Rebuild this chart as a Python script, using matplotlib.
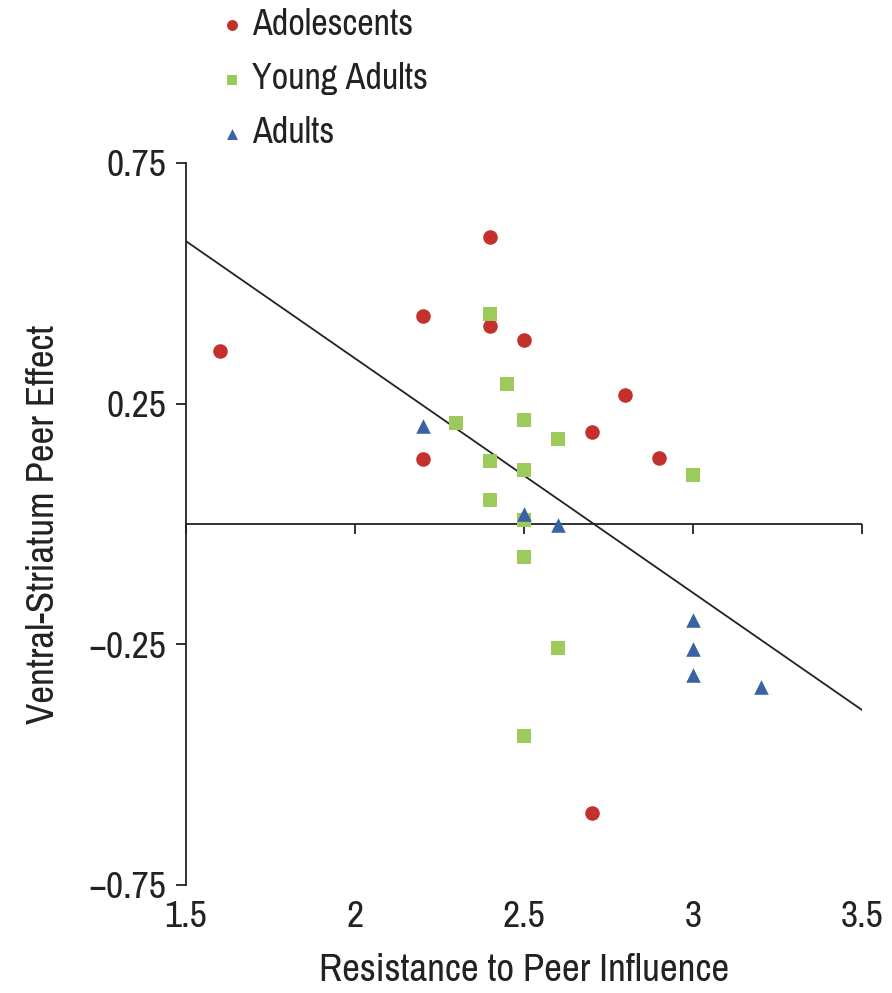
import numpy as np
import matplotlib.pyplot as plt
from matplotlib.markers import TICKDOWN

# fuente estrecha, parecida a Helvetica Condensed
plt.rcParams['font.family'] = ['Archivo Narrow', 'Liberation Sans', 'DejaVu Sans']

# Datos
adol_x = [1.6, 2.4, 2.2, 2.4, 2.5, 2.8, 2.7, 2.2, 2.9, 2.7]
adol_y = [0.36, 0.596, 0.433, 0.412, 0.383, 0.267, 0.192, 0.134, 0.138, -0.601]

young_x = [2.4, 2.45, 2.3, 2.5, 2.6, 2.4, 2.5, 3.0, 2.4, 2.5, 2.5, 2.6, 2.5]
young_y = [0.437, 0.291, 0.209, 0.217, 0.177, 0.130, 0.113, 0.101, 0.049, 0.009,
           -0.069, -0.258, -0.441]

adult_x = [2.2, 2.5, 2.6, 3.0, 3.0, 3.0, 3.2]
adult_y = [0.204, 0.020, -0.003, -0.20, -0.26, -0.314, -0.339]

# recta de regresión (pendiente, ordenada)
fit_slope = -0.487
fit_intercept = 1.318

x_ticks = [1.5, 2, 2.5, 3, 3.5]
x_labels = ['1.5', '2', '2.5', '3', '3.5']
y_ticks = [0.75, 0.25, -0.25, -0.75]
y_labels = ['0.75', '0.25', '\u22120.25', '\u22120.75']

RED = '#C4302B'
GREEN = '#9CCB5C'
BLUE = '#3A63A3'
INK = '#222222'

fig = plt.figure(figsize=(8.92, 9.93), dpi=100)
ax = fig.add_axes([0.2085, 0.1088, 0.7579, 0.7271])

ax.scatter(adol_x, adol_y, marker='o', s=110, color=RED, linewidths=0,
           label='Adolescents', zorder=3)
ax.scatter(young_x, young_y, marker='s', s=95, color=GREEN, linewidths=0,
           label='Young Adults', zorder=3)
ax.scatter(adult_x, adult_y, marker='^', s=110, color=BLUE, linewidths=0,
           label='Adults', zorder=4)

xs = np.array([1.5, 3.5])
ax.plot(xs, fit_slope * xs + fit_intercept, color=INK, lw=1.3, zorder=2)

# eje en y = 0 con marcas hacia abajo
ax.axhline(0, color=INK, lw=1.3, zorder=2)
ax.plot(x_ticks, np.zeros(len(x_ticks)), ls='none', marker=TICKDOWN,
        markersize=7, markeredgewidth=1.3, color=INK, zorder=2, clip_on=False)

ax.set_xlim(1.5, 3.5)
ax.set_ylim(-0.75, 0.75)

for side in ['top', 'right', 'bottom']:
    ax.spines[side].set_visible(False)
ax.spines['left'].set_color(INK)
ax.spines['left'].set_linewidth(1.3)

ax.set_yticks(y_ticks)
ax.set_yticklabels(y_labels)
ax.tick_params(axis='y', direction='out', length=7, width=1.3, color=INK,
               labelsize=27, pad=7, labelcolor=INK)

# etiquetas del eje x abajo, sin línea
ax.set_xticks(x_ticks)
ax.set_xticklabels(x_labels)
ax.tick_params(axis='x', length=0, labelsize=27, pad=11, labelcolor=INK)

ax.set_xlabel('Resistance to Peer Influence', fontsize=28, color=INK, labelpad=14)
ax.set_ylabel('Ventral-Striatum Peer Effect', fontsize=28, color=INK, labelpad=20)

ax.legend(loc='upper left', bbox_to_anchor=(0.025, 1.235), frameon=False,
          fontsize=26, handletextpad=0.15, labelspacing=0.59, borderaxespad=0,
          markerscale=0.75, handlelength=0.8, labelcolor=INK)

plt.savefig('out.png', dpi=100)
